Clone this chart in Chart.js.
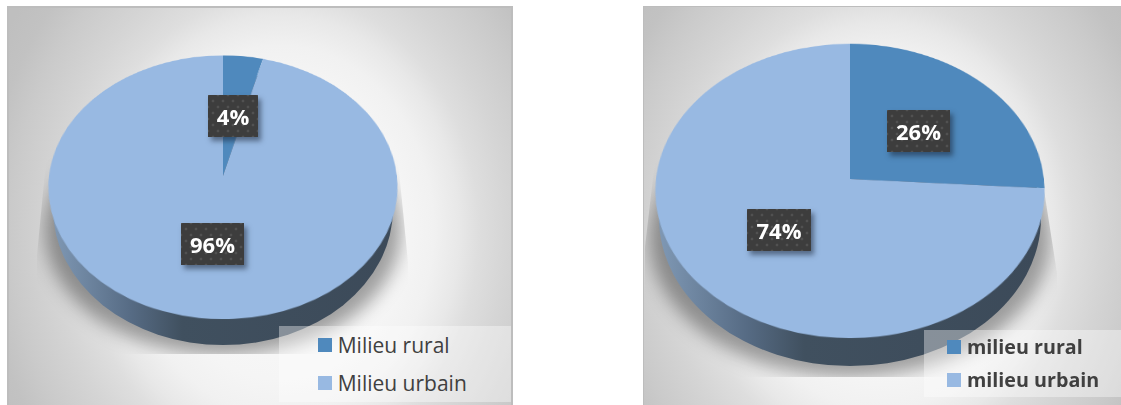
<!DOCTYPE html>
<html lang="fr">
<head>
<meta charset="utf-8">
<title>Répartition par milieu</title>
<script src="https://cdn.jsdelivr.net/npm/chart.js@4/dist/chart.umd.min.js"></script>
<style>
  html, body { margin: 0; padding: 0; background: #fff; width: 1121px; height: 405px; overflow: hidden; }
  body { position: relative; font-family: "Open Sans", sans-serif; }
  .panel { position: absolute; box-sizing: border-box; overflow: hidden; top: 6px; height: 399px;
           border-style: solid; border-color: #bdbdbd; border-bottom-width: 0; }
  .shadow { position: absolute; inset: 0; }
  .shadow div { position: absolute; border-radius: 50%; background: rgba(0,0,0,.36); filter: blur(9px); }
  .wall { position: absolute; border-radius: 50%;
          background: linear-gradient(90deg, #7f98b4 0%, #566b84 23%, #40505f 38%, #3c4a59 100%); }
  canvas { position: absolute; transform-origin: 50% 50%; }
  .tag { position: absolute; box-sizing: border-box; height: 42px; display: flex; align-items: center; justify-content: center;
         color: #fff; font-weight: 700; font-size: 22px;
         background-color: #3d3d3d;
         background-image: radial-gradient(circle at center, #515151 0 1.2px, transparent 1.7px),
                           radial-gradient(circle at center, #515151 0 1.2px, transparent 1.7px);
         background-size: 10px 12px; background-position: 0 0, 5px 6px;
         box-shadow: 3px 4px 5px rgba(20,30,45,.5); }
  .legend { position: absolute; background: rgba(255,255,255,.38); color: #404040; }
  .legend span { position: absolute; white-space: nowrap; }
  .legend i { position: absolute; width: 14px; height: 14px; }
</style>
</head>
<body>
<script>
// Parts of the population by area, two surveys side by side
const leftCategories = ["Milieu rural", "Milieu urbain"];
const leftValues = [4, 96];
const rightCategories = ["milieu rural", "milieu urbain"];
const rightValues = [26, 74];
const sliceColors = ["#4f89bd", "#98b9e2"];

const glowStops = "#fbfbfb 0%, #f5f5f5 39%, #f1f1f1 48%, #e8e8e8 56%, #dedede 62%, #d5d5d5 71%, #cacaca 84%, #c2c2c2 92%, #bfbfbf 100%";

// Page layout of each tilted pie: the disc centre, its radius and the perspective used
const leftLayout = {
  panel: [7, 506], borderWidth: 2, glow: "ellipse 320px 384px at 271px 222px",
  centre: [223.3, 176], radius: 173.9, tilt: 41.2, depth: 1342,
  wall: { x: 53, w: 340, y: 72.5, h: 272 },
  shadowClip: "47px 150px, 37px 255px, 37px 354px, 408px 354px, 408px 262px, 397px 150px",
  shadowBlob: { x: 45, w: 356, y: 105, h: 250 },
  tags: [[208, 95, 50], [181, 223, 63]],
  legend: { x: 279, y: 326, w: 232, h: 76, weight: 400, size: 21, swatchX: 39, textX: 58.7, rows: [12, 50] }
};
const rightLayout = {
  panel: [643, 490], borderWidth: 1, glow: "ellipse 310px 372px at 237px 224px",
  centre: [850, 179], radius: 193.9, tilt: 41.1, depth: 1563,
  wall: { x: 659, w: 382, y: 70, h: 296 },
  shadowClip: "655px 160px, 645px 247px, 645px 377px, 1057px 377px, 1057px 273px, 1044px 190px",
  shadowBlob: { x: 650, w: 400, y: 100, h: 277 },
  tags: [[887, 110, 63], [747, 209, 64]],
  legend: { x: 924, y: 330, w: 197, h: 67, weight: 700, size: 19.7, swatchX: 23, textX: 43, rows: [10, 43] }
};

// Builds the percentage tags and the legend from the chart's own data
const overlayPlugin = {
  id: "overlay",
  afterUpdate(chart, args, opts) {
    const { layout } = opts;
    const ds = chart.data.datasets[0];
    ds.data.forEach((v, i) => {
      const t = layout.tags[i];
      const tag = document.createElement("div");
      tag.className = "tag";
      tag.textContent = v + "%";
      tag.style.cssText = `left:${t[0]}px;top:${t[1]}px;width:${t[2]}px`;
      document.body.appendChild(tag);
    });
    const l = layout.legend;
    const box = document.createElement("div");
    box.className = "legend";
    box.style.cssText = `left:${l.x}px;top:${l.y}px;width:${l.w}px;height:${l.h}px;font-size:${l.size}px;font-weight:${l.weight}`;
    chart.data.labels.forEach((name, i) => {
      const sw = document.createElement("i");
      sw.style.cssText = `left:${l.swatchX}px;top:${l.rows[i]}px;background:${ds.backgroundColor[i]}`;
      const tx = document.createElement("span");
      tx.textContent = name;
      tx.style.cssText = `left:${l.textX}px;top:${l.rows[i] + 7}px;line-height:0`;
      box.append(sw, tx);
    });
    document.body.appendChild(box);
  }
};

function addPie(layout, labels, values) {
  const panel = document.createElement("div");
  panel.className = "panel";
  panel.style.left = layout.panel[0] + "px";
  panel.style.width = layout.panel[1] + "px";
  panel.style.borderWidth = `${layout.borderWidth}px ${layout.borderWidth}px 0`;
  panel.style.background = `radial-gradient(${layout.glow}, ${glowStops})`;
  document.body.appendChild(panel);

  // Soft ground shadow, cut off along the sides and at the bottom
  const shadow = document.createElement("div");
  shadow.className = "shadow";
  shadow.style.clipPath = `polygon(${layout.shadowClip})`;
  const blob = document.createElement("div");
  const b = layout.shadowBlob;
  blob.style.cssText = `left:${b.x}px;top:${b.y}px;width:${b.w}px;height:${b.h}px`;
  shadow.appendChild(blob);
  document.body.appendChild(shadow);

  // Side wall of the disc
  const wall = document.createElement("div");
  wall.className = "wall";
  const w = layout.wall;
  wall.style.cssText = `left:${w.x}px;top:${w.y}px;width:${w.w}px;height:${w.h}px`;
  document.body.appendChild(wall);

  // The pie itself, laid back in perspective
  const size = Math.round(layout.radius * 2);
  const canvas = document.createElement("canvas");
  canvas.width = size;
  canvas.height = size;
  canvas.style.width = size + "px";
  canvas.style.height = size + "px";
  canvas.style.left = layout.centre[0] - size / 2 + "px";
  canvas.style.top = layout.centre[1] - size / 2 + "px";
  canvas.style.transform = `perspective(${layout.depth}px) rotateX(${layout.tilt}deg)`;
  document.body.appendChild(canvas);

  new Chart(canvas, {
    type: "pie",
    data: {
      labels,
      datasets: [{ data: values, backgroundColor: sliceColors, borderWidth: 0 }]
    },
    options: {
      responsive: false,
      animation: false,
      layout: { padding: 0 },
      plugins: {
        legend: { display: false },
        tooltip: { enabled: false },
        overlay: { layout }
      }
    },
    plugins: [overlayPlugin]
  });
}

addPie(leftLayout, leftCategories, leftValues);
addPie(rightLayout, rightCategories, rightValues);
</script>
</body>
</html>
